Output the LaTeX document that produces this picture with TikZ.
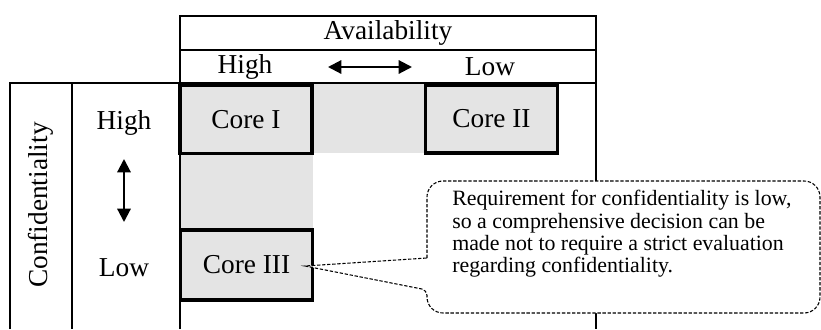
\documentclass[tikz,border=0pt]{standalone}
\usepackage{fontspec}
\setmainfont{Liberation Serif}
\usepackage{tikz}
\usetikzlibrary{arrows.meta}

\definecolor{cellgrey}{HTML}{E4E4E4}

\tikzset{
  grid/.style={line width=1.1pt},
  corebox/.style={draw, line width=2.8pt, fill=cellgrey, minimum width=99pt, minimum height=51pt, inner sep=0pt, font=\fontsize{20.5}{24}\selectfont},
  lbl/.style={inner sep=0pt, font=\fontsize{20.5}{24}\selectfont},
  dblarrow/.style={line width=1.6pt, {Triangle[length=10pt,width=10pt]}-{Triangle[length=10pt,width=10pt]}},
  note/.style={line width=0.8pt, dash pattern=on 2.5pt off 1.3pt}
}

\begin{document}
\begin{tikzpicture}[x=0.75pt, y=-0.75pt]
\useasboundingbox (0,0) rectangle (821,329);
% grey cells
\fill[cellgrey] (180,83) rectangle (426,153);
\fill[cellgrey] (180,153) rectangle (313,231);
%
\draw[grid] (180,329) -- (180,16) -- (596,16) -- (596,329);
\draw[grid] (180,50) -- (596,50);
\draw[grid] (10,329) -- (10,83) -- (596,83);
\draw[grid] (72,83) -- (72,329);
%
\node[lbl] (avail) at (388,33) {Availability};
\node[lbl] (availhi) at (245,67) {High};
\node[lbl] (availlo) at (490,67) {Low};
\coordinate (ahl) at (328,67);
\coordinate (ahr) at (412,67);
\draw[dblarrow] (ahl) -- (ahr);
%
\node[lbl, rotate=90] (conf) at (41,205) {Confidentiality};
\node[lbl] (confhi) at (124,123) {High};
\node[lbl] (conflo) at (124,268) {Low};
\coordinate (cht) at (124,159);
\coordinate (chb) at (124,222);
\draw[dblarrow] (cht) -- (chb);
%
\node[corebox] (core1) at (246,119.5) {Core I};
\node[corebox] (core2) at (491.5,119) {Core II};
\node[corebox, minimum height=52.5pt] (core3) at (246.5,265) {Core III};
%
\coordinate (tip) at (305,266);
\draw[note, fill=white] (427,258) [rounded corners=12pt] -- (427,181) -- (820,181) -- (820,313) -- (427,313) [rounded corners=4pt] -- (427,290) [sharp corners] -- (tip) -- cycle;
\node[anchor=north west, align=left, inner sep=0pt, font=\fontsize{16.4}{16.8}\selectfont] (remark) at (452,190)
  {Requirement for confidentiality is low,\\so a comprehensive decision can be\\made not to require a strict evaluation\\regarding confidentiality.};
\end{tikzpicture}
\end{document}
